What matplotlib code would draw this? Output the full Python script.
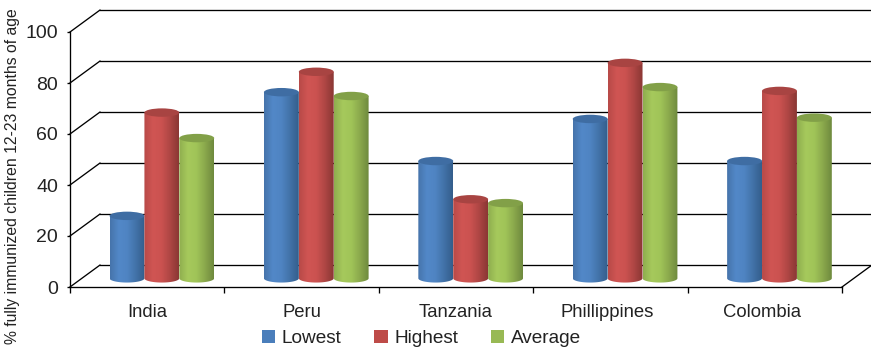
import matplotlib
matplotlib.use("Agg")
import matplotlib.pyplot as plt
import numpy as np
from matplotlib.colors import LinearSegmentedColormap
from matplotlib.patches import Ellipse, Patch, PathPatch
from matplotlib.path import Path

plt.rcParams["font.family"] = ["Liberation Sans", "DejaVu Sans"]

countries = ["India", "Peru", "Tanzania", "Phillippines", "Colombia"]
lowest = [24.5, 73, 46, 62.5, 46]
highest = [65, 81, 31, 84.5, 73.5]
average = [55, 71.5, 29.5, 75, 63]
y_ticks = [0, 20, 40, 60, 80, 100]

series_names = ["Lowest", "Highest", "Average"]
legend_colors = ["#4a7ebb", "#be4b48", "#98b954"]
cap_colors = ["#3f6da3", "#a84442", "#82a048"]
body_stops = [
    ["#4674ab", "#5288c8", "#4f84c2", "#4272a8", "#345e8c"],
    ["#b84a48", "#d05553", "#cb5250", "#ae4644", "#8a3734"],
    ["#8fae4f", "#a6c95c", "#a0c458", "#8aa84c", "#6f8a3e"],
]

# oblique offset of the back wall, in data units
DEPTH_X = 0.194
DEPTH_Y = 8.6
BAR_W = 0.226
BAR_SHIFT_X = 0.095
BAR_BASE = 3.4
CAP_H = 3.3
# category labels sit a little left of centre towards the right end
LABEL_X = [0.5, 1.5, 2.5, 3.478, 4.484]


def draw_cylinder(ax, xc, value, stops, cap_color, z):
    left, right = xc - BAR_W / 2, xc + BAR_W / 2
    top = BAR_BASE + value
    t = np.linspace(np.pi, 2 * np.pi, 40)
    low_x = xc + BAR_W / 2 * np.cos(t)
    low_y = BAR_BASE + CAP_H / 2 * np.sin(t)
    px = np.concatenate([[left, right], low_x[::-1]])
    py = np.concatenate([[top, top], low_y[::-1]])
    outline = PathPatch(Path(np.column_stack([px, py])), transform=ax.transData,
                        facecolor="none", edgecolor="none")
    ax.add_patch(outline)
    cmap = LinearSegmentedColormap.from_list("shade", stops)
    im = ax.imshow(np.linspace(0, 1, 64).reshape(1, -1), cmap=cmap, aspect="auto",
                   extent=[left, right, BAR_BASE - CAP_H, top], zorder=z)
    im.set_clip_path(outline)
    ax.add_patch(Ellipse((xc, top), BAR_W, CAP_H, facecolor=cap_color,
                         edgecolor="none", zorder=z + 0.1))


fig = plt.figure(figsize=(8.71, 3.54), dpi=100)
ax = fig.add_axes([70 / 871, 1 - 287 / 354, 772 / 871, 255 / 354])

# back wall gridlines and the diagonals joining them to the axes
for val in y_ticks:
    ax.plot([DEPTH_X, 5 + DEPTH_X], [val + DEPTH_Y, val + DEPTH_Y], color="black",
            lw=0.95, clip_on=False, zorder=1)
    ax.plot([0, DEPTH_X], [val, val + DEPTH_Y], color="black", lw=0.95,
            clip_on=False, zorder=1)
ax.plot([5, 5 + DEPTH_X], [0, DEPTH_Y], color="black", lw=0.95, clip_on=False, zorder=1)

groups = [lowest, highest, average]
for i, country in enumerate(countries):
    for j, values in enumerate(groups):
        xc = i + 0.5 + BAR_SHIFT_X + (j - 1) * BAR_W
        draw_cylinder(ax, xc, values[i], body_stops[j], cap_colors[j], 3 + i + j * 0.2)

ax.set_xlim(0, 5)
ax.set_ylim(0, 100)
ax.set_yticks(y_ticks)
ax.set_xticks(range(6))
ax.set_xticklabels([])
ax.set_xticks(LABEL_X, countries, minor=True)
ax.tick_params(axis="x", which="major", length=4.5, width=0.95)
ax.tick_params(axis="x", which="minor", length=0, pad=12, labelsize=13.3, labelcolor="#222222")
ax.tick_params(axis="y", length=2.5, width=0.95, pad=6, labelsize=14, labelcolor="#222222")
ax.set_ylabel("% fully immunized children 12-23 months of age", fontsize=11.3,
              color="#222222")
ax.yaxis.set_label_coords(-49.5 / 772, 0.433)
ax.patch.set_visible(False)
for side in ["top", "right"]:
    ax.spines[side].set_visible(False)
for side in ["left", "bottom"]:
    ax.spines[side].set_linewidth(0.95)
    ax.spines[side].set_zorder(2)

handles = [Patch(facecolor=c, edgecolor="none", label=n)
           for c, n in zip(legend_colors, series_names)]
fig.legend(handles=handles, loc="center", ncol=3, frameon=False, fontsize=13.7,
           bbox_to_anchor=(421.5 / 871, 1 - 338.5 / 354), handlelength=0.7, handleheight=0.7,
           handletextpad=0.35, columnspacing=1.72, labelcolor="#222222", borderpad=0)

fig.savefig("out.png", dpi=100)
